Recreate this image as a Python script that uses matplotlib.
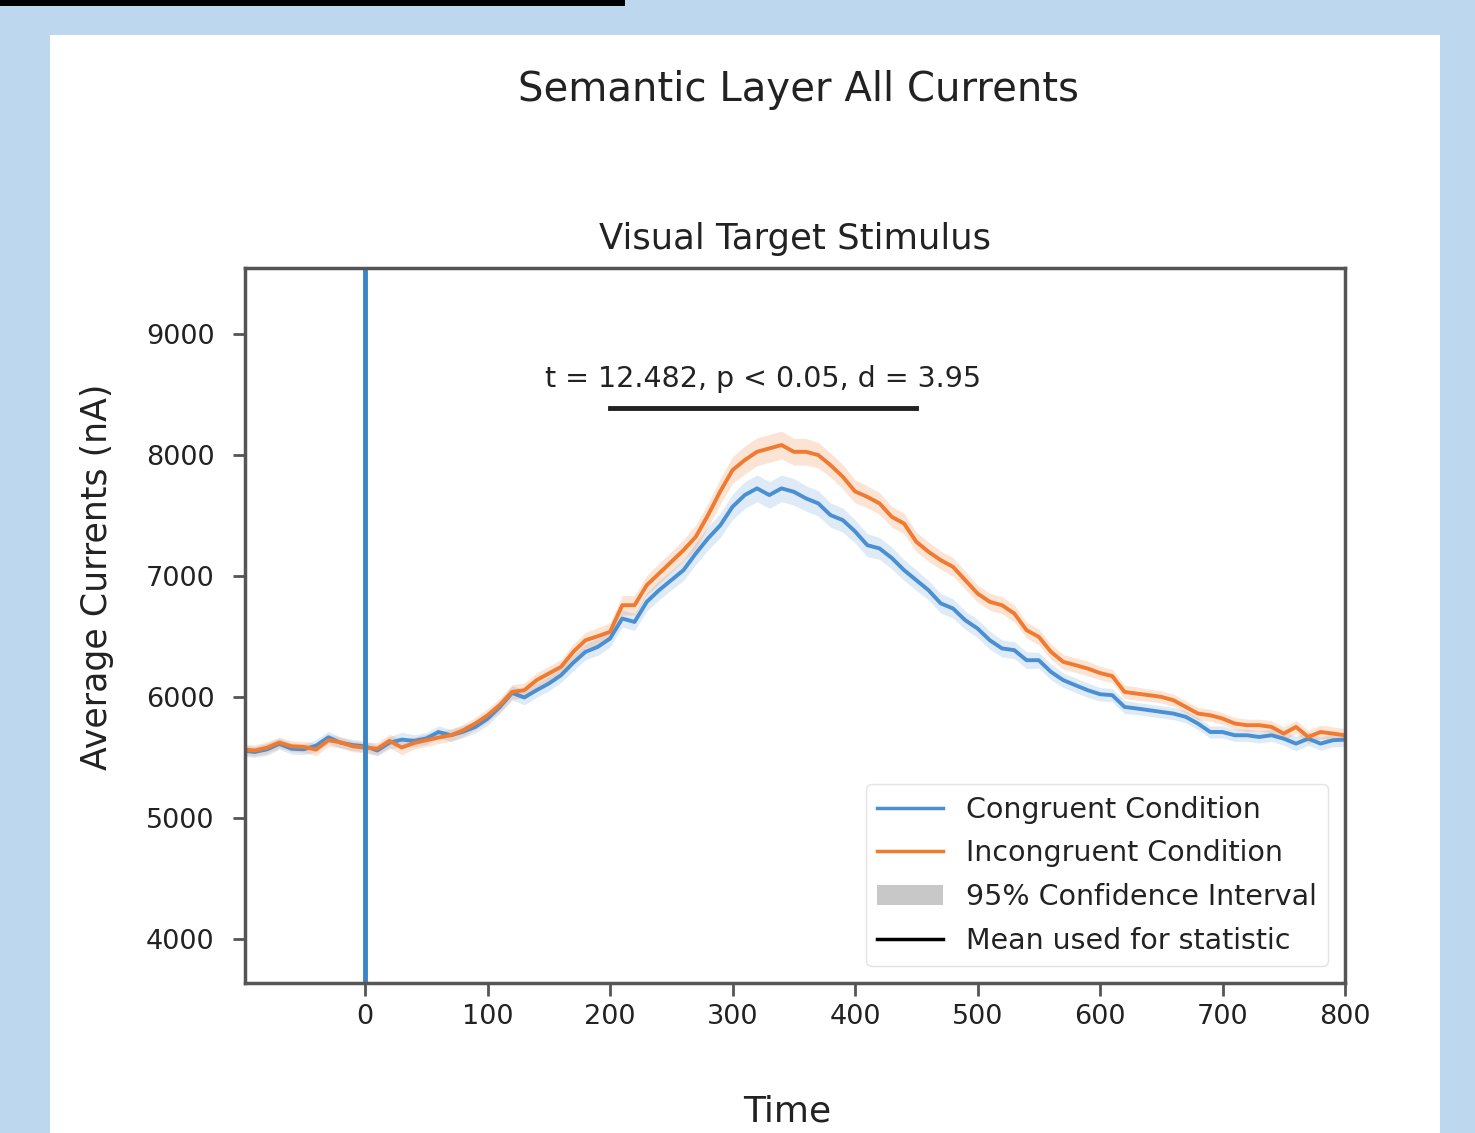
import numpy as np
import matplotlib
matplotlib.use("Agg")
import matplotlib.pyplot as plt
from matplotlib.lines import Line2D
from matplotlib.patches import Patch, Rectangle

# ---- data ----
time_ms = list(range(-100, 801, 10))

congruent = [5560, 5548, 5570, 5615, 5575, 5570, 5600, 5669, 5625, 5605,
             5595, 5560, 5625, 5650, 5640, 5660, 5713, 5686, 5715, 5755,
             5823, 5920, 6036, 5998, 6058, 6113, 6182, 6285, 6375, 6416,
             6485, 6650, 6622, 6788, 6884, 6967, 7050, 7187, 7312, 7420,
             7573, 7670, 7725, 7670, 7725, 7697, 7642, 7601, 7504, 7463,
             7370, 7256, 7229, 7150, 7050, 6967, 6884, 6775, 6733, 6636,
             6568, 6471, 6403, 6389, 6306, 6306, 6209, 6141, 6099, 6058,
             6025, 6017, 5920, 5907, 5893, 5879, 5865, 5838, 5782, 5713,
             5713, 5686, 5686, 5672, 5686, 5658, 5617, 5658, 5617, 5645,
             5650]

incongruent = [5570, 5560, 5584, 5626, 5595, 5590, 5568, 5645, 5628, 5595,
               5584, 5575, 5640, 5585, 5622, 5645, 5667, 5686, 5727, 5783,
               5851, 5935, 6044, 6058, 6141, 6196, 6251, 6375, 6471, 6504,
               6540, 6760, 6760, 6926, 7022, 7118, 7215, 7325, 7504, 7700,
               7876, 7959, 8027, 8055, 8083, 8027, 8027, 8000, 7917, 7821,
               7700, 7655, 7601, 7490, 7435, 7284, 7201, 7132, 7077, 6967,
               6857, 6788, 6760, 6692, 6554, 6499, 6375, 6292, 6265, 6237,
               6200, 6175, 6044, 6030, 6017, 6003, 5975, 5920, 5865, 5851,
               5824, 5783, 5769, 5769, 5755, 5700, 5755, 5672, 5713, 5700,
               5686]

ci_congruent = [45, 45, 50, 45, 45, 45, 50, 50, 45, 45,
                45, 45, 50, 60, 50, 50, 50, 50, 50, 50,
                55, 55, 60, 60, 60, 60, 60, 65, 65, 70,
                70, 70, 70, 75, 80, 80, 85, 90, 95, 100,
                105, 110, 110, 110, 110, 110, 105, 105, 100, 100,
                95, 95, 90, 90, 85, 85, 80, 80, 80, 75,
                75, 75, 70, 70, 70, 65, 65, 60, 60, 60,
                55, 55, 55, 50, 50, 50, 50, 50, 50, 50,
                50, 50, 50, 50, 50, 55, 60, 55, 55, 55,
                55]

ci_incongruent = [45, 45, 50, 45, 45, 45, 50, 50, 45, 45,
                  45, 50, 55, 60, 50, 50, 50, 50, 50, 50,
                  55, 55, 60, 60, 60, 60, 60, 65, 65, 70,
                  75, 80, 80, 80, 85, 85, 90, 95, 100, 105,
                  110, 115, 115, 115, 115, 110, 110, 105, 100, 100,
                  95, 90, 90, 85, 85, 80, 80, 75, 75, 75,
                  70, 70, 70, 70, 65, 65, 65, 60, 60, 60,
                  55, 55, 55, 55, 50, 50, 50, 50, 50, 50,
                  50, 50, 50, 50, 50, 55, 55, 55, 55, 55,
                  55]

stat_window = [200, 450]
stat_level = 8390
stat_text = "t = 12.482, p < 0.05, d = 3.95"
xticks = [0, 100, 200, 300, 400, 500, 600, 700, 800]
yticks = [4000, 5000, 6000, 7000, 8000, 9000]
legend_labels = ["Congruent Condition", "Incongruent Condition",
                 "95% Confidence Interval", "Mean used for statistic"]

# ---- styling ----
BLUE = "#4a8fd2"
ORANGE = "#f07a30"
VLINE = "#3a85c4"
BG = "#bdd7ee"
SPINE = "#555555"
TXT = "#222222"

W, H = 1475, 1133
fig = plt.figure(figsize=(W / 100, H / 100), dpi=100)
fig.patch.set_facecolor(BG)

# white panel and black bar at top
fig.add_artist(Rectangle((50 / W, 0), 1390 / W, 1 - 35 / H, transform=fig.transFigure,
                         facecolor="white", edgecolor="none", zorder=0))
fig.add_artist(Rectangle((0, 1 - 6 / H), 625 / W, 6 / H, transform=fig.transFigure,
                         facecolor="black", edgecolor="none", zorder=0))

ax = fig.add_axes([245 / W, 1 - 983 / H, 1100 / W, 715 / H])
ax.set_facecolor("white")

t = np.array(time_ms)
c = np.array(congruent)
i = np.array(incongruent)
cc = np.array(ci_congruent)
ci = np.array(ci_incongruent)

ax.fill_between(t, c - cc, c + cc, color=BLUE, alpha=0.18, lw=0)
ax.fill_between(t, i - ci, i + ci, color=ORANGE, alpha=0.2, lw=0)
ax.plot(t, c, color=BLUE, lw=2.8)
ax.plot(t, i, color=ORANGE, lw=2.8)
ax.axvline(0, color=VLINE, lw=3.5)

ax.plot(stat_window, [stat_level, stat_level], color="#222222", lw=3.5)
ax.text(np.mean(stat_window), stat_level + 120, stat_text, ha="center", va="bottom",
        fontsize=20.5, color=TXT)

ax.set_xlim(-98, 800)
ax.set_ylim(3640, 9545)
ax.set_xticks(xticks)
ax.set_yticks(yticks)
ax.tick_params(axis="both", labelsize=19.5, colors=TXT, length=9, width=2, color=SPINE)
ax.tick_params(axis="y", pad=13)
ax.tick_params(axis="x", pad=6)
for s in ax.spines.values():
    s.set_color(SPINE)
    s.set_linewidth(2.5)

ax.set_title("Visual Target Stimulus", fontsize=25.5, color=TXT, pad=14)
fig.text(97 / W, 1 - 577 / H, "Average Currents (nA)", rotation=90, ha="center",
         va="center", fontsize=25, color=TXT)
fig.text(787 / W, 1 - 1112 / H, "Time", ha="center", va="center", fontsize=26, color=TXT)
fig.text(799 / W, 1 - 90 / H, "Semantic Layer All Currents", ha="center", va="center",
         fontsize=29, color=TXT)

handles = [Line2D([], [], color=BLUE, lw=2.5),
           Line2D([], [], color=ORANGE, lw=2.5),
           Patch(facecolor="#c8c8c8", edgecolor="none"),
           Line2D([], [], color="black", lw=2.5)]
leg = ax.legend(handles, legend_labels, loc="lower right", fontsize=20.5,
                frameon=True, fancybox=True, framealpha=0.8, edgecolor="#dddddd",
                handlelength=2.3, handletextpad=0.8, borderaxespad=0.6,
                labelspacing=0.55, borderpad=0.4)
for txt in leg.get_texts():
    txt.set_color(TXT)

fig.savefig("out.png", dpi=100, facecolor=BG)
